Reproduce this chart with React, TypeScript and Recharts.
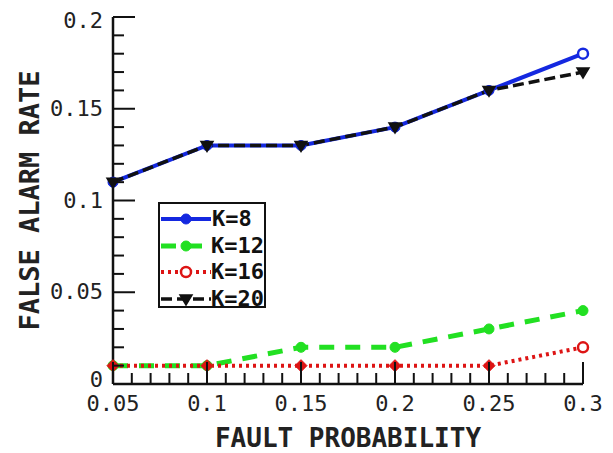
import React from 'react';
import { LineChart, Line, XAxis, YAxis, Legend } from 'recharts';

// values
const faultProbability = [0.05, 0.1, 0.15, 0.2, 0.25, 0.3];
const k8 = [0.11, 0.13, 0.13, 0.14, 0.16, 0.18];
const k12 = [0.01, 0.01, 0.02, 0.02, 0.03, 0.04];
const k16 = [0.01, 0.01, 0.01, 0.01, 0.01, 0.02];
const k20 = [0.11, 0.13, 0.13, 0.14, 0.16, 0.17];

const xMajor = [0.05, 0.1, 0.15, 0.2, 0.25, 0.3];
const yMajor = [0, 0.05, 0.1, 0.15, 0.2];
// minor ticks every 0.01
const xTicks = Array.from({ length: 26 }, (_, i) => +(0.05 + i * 0.01).toFixed(2));
const yTicks = Array.from({ length: 21 }, (_, i) => +(i * 0.01).toFixed(2));

const data = faultProbability.map((p, i) => ({
  p,
  k8: k8[i],
  k12: k12[i],
  k16: k16[i],
  k20: k20[i],
}));

const FONT = '"DejaVu Sans Mono", monospace';
const MAJOR = 22;
const MINOR = 11;

const isMajor = (v: number, list: number[]) => list.some((m) => Math.abs(m - v) < 1e-6);
const fmt = (v: number) => String(Number(v.toFixed(2)));

type Shape = 'circle' | 'diamond' | 'tri' | 'ring';

function Marker({ cx, cy, shape, color }: { cx: number; cy: number; shape: Shape; color: string }) {
  if (shape === 'diamond')
    return <path d={`M${cx},${cy - 6}L${cx + 6},${cy}L${cx},${cy + 6}L${cx - 6},${cy}Z`} fill={color} stroke={color} strokeWidth={1} />;
  if (shape === 'tri')
    return <path d={`M${cx - 6},${cy - 4}L${cx + 6},${cy - 4}L${cx},${cy + 6}Z`} fill={color} stroke={color} strokeWidth={1.5} />;
  if (shape === 'ring') return <circle cx={cx} cy={cy} r={5} fill="#fff" stroke={color} strokeWidth={2.5} />;
  return <circle cx={cx} cy={cy} r={5} fill={color} stroke={color} strokeWidth={1} />;
}

const makeDot = (shape: Shape, color: string, lastRing: boolean) => (props: any) => {
  const { cx, cy, index } = props;
  const s = lastRing && index === faultProbability.length - 1 ? 'ring' : shape;
  return <Marker key={`d${index}`} cx={cx} cy={cy} shape={s} color={color} />;
};

const series = [
  { key: 'k8', name: 'K=8', color: '#1428e0', dash: undefined, width: 4, shape: 'circle' as Shape, ring: true },
  { key: 'k12', name: 'K=12', color: '#22e022', dash: '15 11', width: 5, shape: 'circle' as Shape, ring: false },
  { key: 'k16', name: 'K=16', color: '#dd1414', dash: '3 4', width: 4, shape: 'diamond' as Shape, ring: true },
  { key: 'k20', name: 'K=20', color: '#111111', dash: '11 5', width: 3.5, shape: 'tri' as Shape, ring: false },
];

const BottomTick = ({ x, y, payload }: any) => {
  const major = isMajor(payload.value, xMajor);
  return (
    <g>
      <line x1={x} x2={x} y1={y} y2={y - (major ? MAJOR : MINOR)} stroke="#111" strokeWidth={2} />
      {major && (
        <text x={x} y={y + 27} textAnchor="middle" fontFamily={FONT} fontSize={22} fill="#222">
          {fmt(payload.value)}
        </text>
      )}
    </g>
  );
};

const TopTick = ({ x, y, payload }: any) => {
  const major = isMajor(payload.value, xMajor);
  return <line x1={x} x2={x} y1={y} y2={y + (major ? MAJOR : MINOR)} stroke="#111" strokeWidth={2} />;
};

const LeftTick = ({ x, y, payload }: any) => {
  const major = isMajor(payload.value, yMajor);
  // end labels sit a little inward, as in the reference
  const shift = payload.value === 0 ? -4 : payload.value >= 0.2 - 1e-6 ? 4 : 0;
  return (
    <g>
      <line x1={x} x2={x + (major ? MAJOR : MINOR)} y1={y} y2={y} stroke="#111" strokeWidth={2} />
      {major && (
        <text x={x - 10} y={y + shift} dy={7} textAnchor="end" fontFamily={FONT} fontSize={22} fill="#222">
          {fmt(payload.value)}
        </text>
      )}
    </g>
  );
};

const RightTick = ({ x, y, payload }: any) => {
  const major = isMajor(payload.value, yMajor);
  return <line x1={x} x2={x - (major ? MAJOR : MINOR)} y1={y} y2={y} stroke="#111" strokeWidth={2} />;
};

const LegendBox = () => (
  <div
    style={{
      background: '#fff',
      border: '2px solid #111',
      width: 108,
      height: 106,
      boxSizing: 'border-box',
      paddingTop: 2,
    }}
  >
    {series.map((s) => (
      <div key={s.key} style={{ display: 'flex', alignItems: 'center', height: 26.5 }}>
        <svg width={52} height={20} style={{ marginLeft: 0 }}>
          <line x1={1} x2={51} y1={10} y2={10} stroke={s.color} strokeWidth={s.width} strokeDasharray={s.dash} />
          <Marker cx={26} cy={10} shape={s.key === 'k16' ? 'ring' : s.shape} color={s.color} />
        </svg>
        <span style={{ fontFamily: FONT, fontWeight: 'bold', fontSize: 22, color: '#111', lineHeight: 1 }}>{s.name}</span>
      </div>
    ))}
  </div>
);

export default function App() {
  return (
    <LineChart width={597} height={445} data={data} margin={{ top: 9, right: 22, bottom: 0, left: 5 }}>
      <XAxis
        dataKey="p"
        type="number"
        domain={[0.05, 0.3]}
        ticks={xTicks}
        interval={0}
        tick={<BottomTick />}
        tickLine={false}
        tickSize={0}
        tickMargin={0}
        height={69}
        axisLine={{ stroke: '#111', strokeWidth: 2.5 }}
        label={{
          content: (props: any) => {
            const vb = props.viewBox;
            return (
              <text x={vb.x + vb.width / 2} y={vb.y + 63} textAnchor="middle" fontFamily={FONT} fontWeight="bold" fontSize={26} fill="#222">
                FAULT PROBABILITY
              </text>
            );
          },
        }}
      />
      <XAxis
        xAxisId="top"
        orientation="top"
        dataKey="p"
        type="number"
        domain={[0.05, 0.3]}
        ticks={xTicks}
        interval={0}
        tick={<TopTick />}
        tickLine={false}
        tickSize={0}
        tickMargin={0}
        height={0}
        axisLine={{ stroke: '#111', strokeWidth: 2.5 }}
      />
      <YAxis
        type="number"
        domain={[0, 0.2]}
        ticks={yTicks}
        interval={0}
        tick={<LeftTick />}
        tickLine={false}
        tickSize={0}
        tickMargin={0}
        width={100}
        axisLine={{ stroke: '#111', strokeWidth: 2.5 }}
        label={{
          content: (props: any) => {
            const vb = props.viewBox;
            const cx = vb.x + 16;
            const cy = vb.y + vb.height / 2;
            return (
              <text
                x={cx}
                y={cy}
                transform={`rotate(-90 ${cx} ${cy})`}
                textAnchor="middle"
                dominantBaseline="central"
                fontFamily={FONT}
                fontWeight="bold"
                fontSize={27}
                fill="#222"
              >
                FALSE ALARM RATE
              </text>
            );
          },
        }}
      />
      <YAxis
        yAxisId="right"
        orientation="right"
        type="number"
        domain={[0, 0.2]}
        ticks={yTicks}
        interval={0}
        tick={<RightTick />}
        tickLine={false}
        tickSize={0}
        tickMargin={0}
        width={0}
        axisLine={{ stroke: '#111', strokeWidth: 2.5 }}
      />
      {series.map((s) => (
        <Line
          key={s.key}
          dataKey={s.key}
          name={s.name}
          type="linear"
          stroke={s.color}
          strokeWidth={s.width}
          strokeDasharray={s.dash}
          dot={makeDot(s.shape, s.color, s.ring)}
          activeDot={false}
          isAnimationActive={false}
        />
      ))}
      <Legend
        layout="vertical"
        align="center"
        verticalAlign="middle"
        content={<LegendBox />}
        wrapperStyle={{ position: 'absolute', left: 150, top: 194, width: 110, margin: 0 }}
      />
    </LineChart>
  );
}
